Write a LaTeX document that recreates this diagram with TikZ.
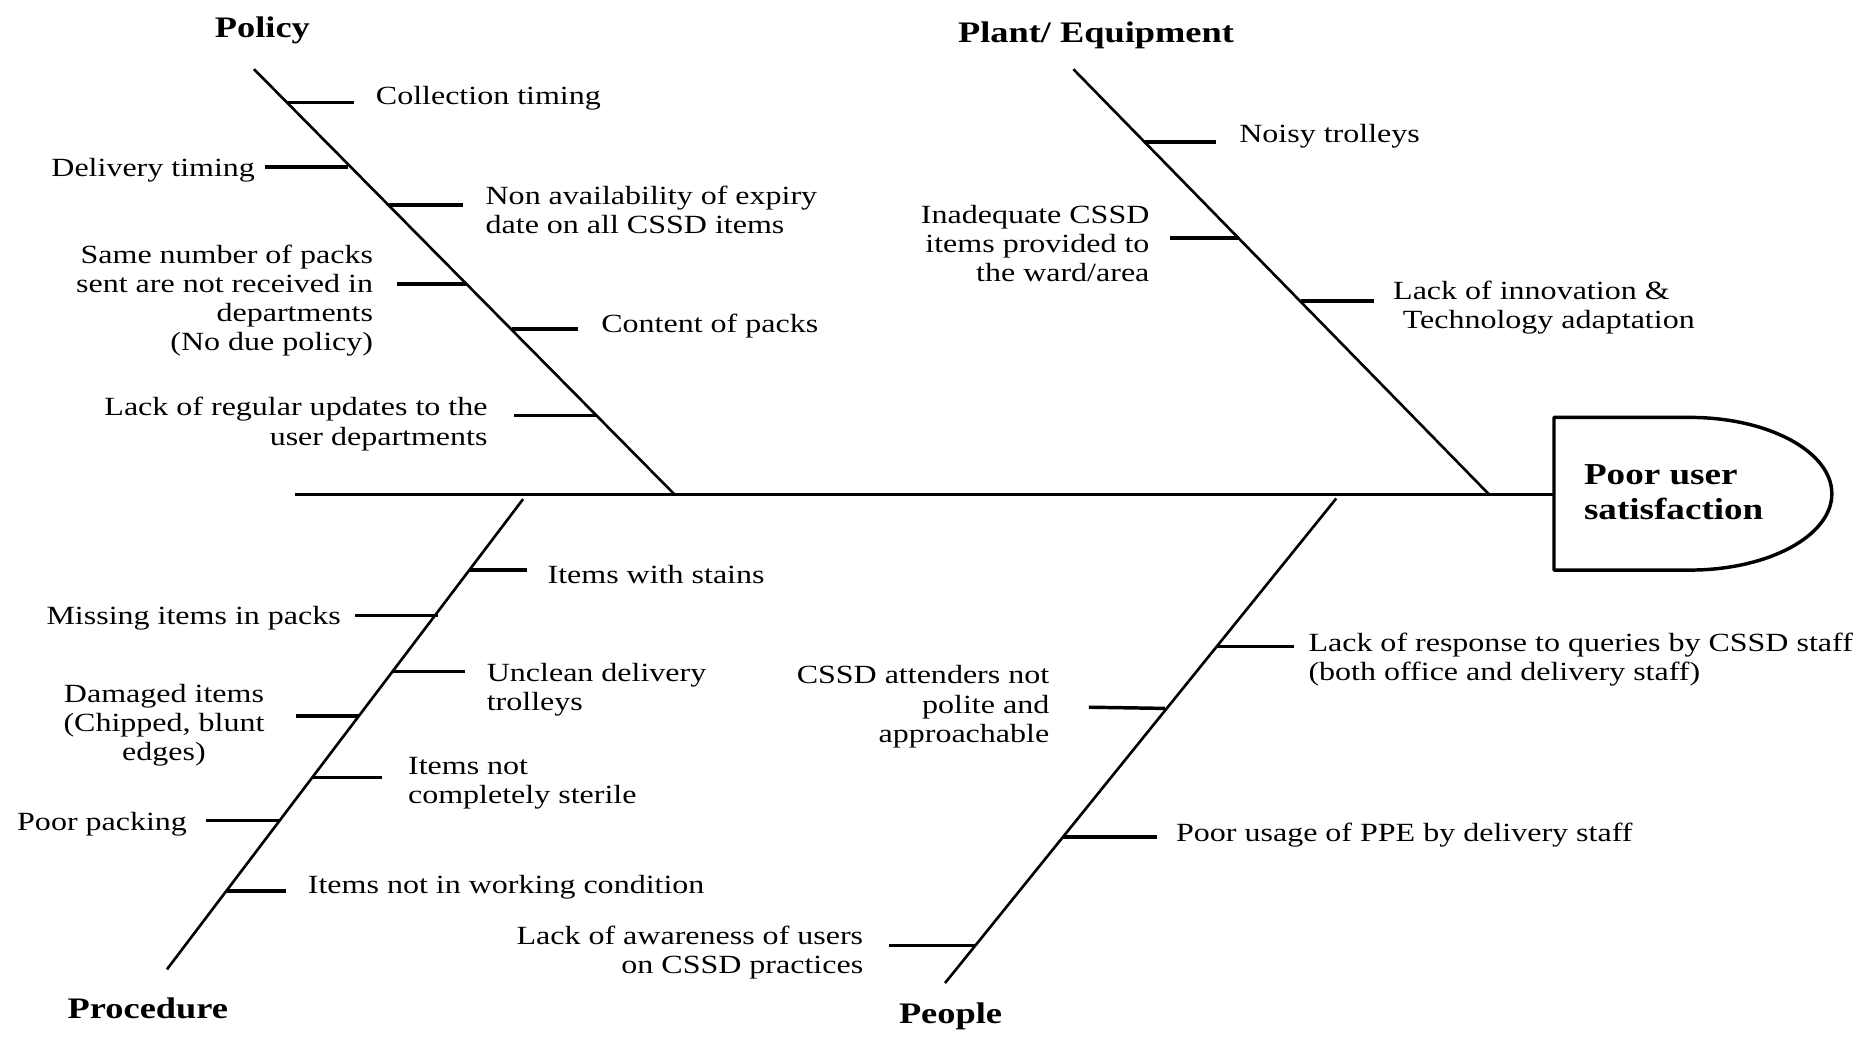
\documentclass[tikz,border=0pt]{standalone}
\usepackage{fontspec}
\setmainfont{Liberation Serif}[FakeStretch=1.22]
\usetikzlibrary{calc}
\begin{document}
\begin{tikzpicture}[x=1pt,y=-1pt,
  txt/.style={font=\fontsize{22}{24.4}\selectfont, inner sep=0pt, yshift=-2pt},
  lbl/.style={font=\fontsize{25}{29.5}\selectfont\bfseries, inner sep=0pt, yshift=-1.5pt},
  headtxt/.style={font=\fontsize{25.5}{29.5}\selectfont\bfseries, inner sep=0pt, align=left},
  spine/.style={line width=2.2pt},
  tick/.style={line width=2.9pt},
  mainline/.style={line width=2.6pt},
  headbox/.style={line width=2.9pt, line join=round}]
\useasboundingbox (0,0) rectangle (1568,870);
\fill[white] (0,0) rectangle (1568,870);

% category labels
\node[lbl] (policy) at (220,24) {Policy};
\node[lbl] (plant) at (919,28) {Plant/ Equipment};
\node[lbl] (proc) at (124,844) {Procedure};
\node[lbl] (people) at (797,851) {People};

% spine end points
\coordinate (polT) at (213,58);    \coordinate (polB) at (566,415);
\coordinate (plaT) at (900,58);    \coordinate (plaB) at (1249,415);
\coordinate (proT) at (438.6,418.5); \coordinate (proB) at (140,812.8);
\coordinate (peoT) at (1120.4,418); \coordinate (peoB) at (792.4,824.3);
\coordinate (tail) at (247,415);
\coordinate (headL) at (1303,415);

% head
\draw[headbox] (1303,350) -- (1417,350)
  .. controls (1482.7,350) and (1536,378.7) .. (1536,414)
  .. controls (1536,449.3) and (1482.7,478) .. (1417,478)
  -- (1303,478) -- cycle;
\node[headtxt, anchor=west] (head) at (1328,413) {Poor user\\satisfaction};

% backbone and spines
\draw[mainline] (tail) -- (headL);
\draw[spine] (polT) -- (polB);
\draw[spine] (plaT) -- (plaB);
\draw[spine] (proT) -- (proB);
\draw[spine] (peoT) -- (peoB);

% Policy ticks
\draw[tick] (240.5,86) -- (297,86);
\draw[tick] (292,140) -- (222,140);
\draw[tick] (326,172) -- (388,172);
\draw[tick] (391,238) -- (333,238);
\draw[tick] (429,276) -- (485,276);
\draw[tick] (500,348.5) -- (431,348.5);
% Plant ticks
\draw[tick] (960,119) -- (1020,119);
\draw[tick] (1038.5,199.5) -- (981,199.5);
\draw[tick] (1091,252.5) -- (1152,252.5);
% Procedure ticks
\draw[tick] (393.5,478) -- (442,478);
\draw[tick] (367,516) -- (298,516);
\draw[tick] (329.5,563) -- (390,563);
\draw[tick] (301,600.4) -- (248,600.4);
\draw[tick] (262,652) -- (320,652);
\draw[tick] (235,688) -- (173,688);
\draw[tick] (190,747) -- (240,747);
% People ticks
\draw[tick] (1020.5,542) -- (1085,542);
\draw[tick] (977,594) -- (913,593);
\draw[tick] (891.5,702) -- (970,702);
\draw[tick] (817.5,793) -- (745,793);

% Policy causes
\node[txt, anchor=west] (p1) at (315,80) {Collection timing};
\node[txt, anchor=east] (p2) at (214,141) {Delivery timing};
\node[txt, anchor=west, align=left] (p3) at (407,174) {Non availability of expiry\\date on all CSSD items};
\node[txt, anchor=east, align=right] (p4) at (313,250) {Same number of packs\\sent are not received in\\departments\\(No due policy)};
\node[txt, anchor=west] (p5) at (504,271) {Content of packs};
\node[txt, anchor=east, align=right] (p6) at (409,353.6) {Lack of regular updates to the\\user departments};

% Plant causes
\node[txt, anchor=west] (e1) at (1039,112) {Noisy trolleys};
\node[txt, anchor=east, align=right] (e2) at (964,202) {Inadequate CSSD\\items provided to\\the ward/area};
\node[txt, anchor=west, align=left] (e3) at (1168,255.6) {Lack of innovation \&\\\hspace*{8pt}Technology adaptation};

% Procedure causes
\node[txt, anchor=west] (r1) at (459,480) {Items with stains};
\node[txt, anchor=east] (r2) at (286,516) {Missing items in packs};
\node[txt, anchor=west, align=left] (r3) at (408,576) {Unclean delivery\\trolleys};
\node[txt, align=center] (r4) at (137.5,606) {Damaged items\\(Chipped, blunt\\edges)};
\node[txt, anchor=west, align=left] (r5) at (342,655) {Items not\\completely sterile};
\node[txt, anchor=east] (r6) at (157,689) {Poor packing};
\node[txt, anchor=west] (r7) at (258,742) {Items not in working condition};

% People causes
\node[txt, anchor=west, align=left] (h1) at (1097,551) {Lack of response to queries by CSSD staff\\(both office and delivery staff)};
\node[txt, anchor=east, align=right] (h2) at (880,590.6) {CSSD attenders not\\polite and\\approachable};
\node[txt, anchor=west] (h3) at (986,698) {Poor usage of PPE by delivery staff};
\node[txt, anchor=east, align=right] (h4) at (724,797) {Lack of awareness of users\\on CSSD practices};
\end{tikzpicture}
\end{document}
